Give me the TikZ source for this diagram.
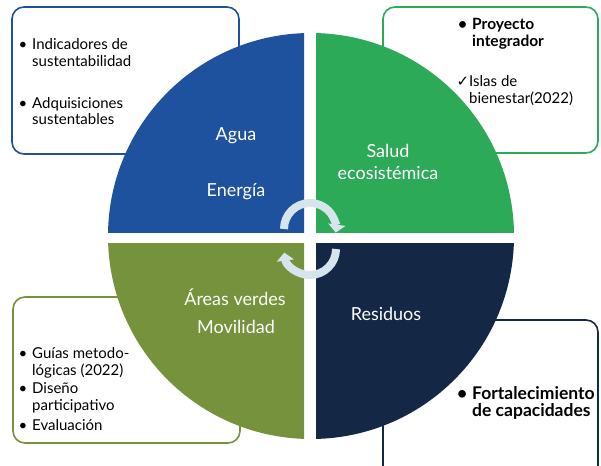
\documentclass[tikz,border=0pt]{standalone}
\usepackage{fontspec}
\setmainfont{Lato}
\newfontfamily\symfont{DejaVu Sans}
\usepackage{xcolor}
\usepackage{tikz}
\usetikzlibrary{arrows.meta, positioning}
\definecolor{agua}{RGB}{31,82,158}
\definecolor{salud}{RGB}{44,170,88}
\definecolor{areas}{RGB}{118,146,60}
\definecolor{residuos}{RGB}{20,39,68}
\definecolor{ciclo}{RGB}{214,228,237}
\tikzstyle{infobox} = [rounded corners=12pt, line width=1.6pt, fill=white]
\tikzstyle{listtext} = [anchor=base west, align=left, inner sep=0pt, font=\fontsize{15}{17}\selectfont]
\tikzstyle{listbold} = [listtext, font=\fontsize{15.5}{17}\selectfont\bfseries]
\tikzstyle{quadtext} = [anchor=base, inner sep=0pt, text=white, font=\fontsize{18}{22}\selectfont]
\tikzstyle{cycle} = [line width=8pt, draw=ciclo, -{Triangle[length=8pt,width=17pt]}]
\newcommand{\bul}{\llap{\textbullet\hspace{5pt}}}

\begin{document}
\begin{tikzpicture}[x=1pt, y=-1pt]
                  \useasboundingbox (0,0) rectangle (601,465);
                  \clip (0,0) rectangle (601,465);
                  % boxes behind the circle
                  \draw [infobox, draw=agua] (12,7) rectangle (239,154);
                  \draw [infobox, draw=salud] (383,7) rectangle (598,153);
                  \draw [infobox, draw=areas] (13,297) rectangle (240,443);
                  \draw [infobox, draw=residuos] (383,320) rectangle (598,478);

                  % four quarters
                  \begin{scope}
                      \clip (0,0) rectangle (304,232);
                      \fill [agua] (311,236) circle [radius=203pt];
                  \end{scope}
                  \begin{scope}
                      \clip (316,0) rectangle (601,232);
                      \fill [salud] (311,236) circle [radius=203pt];
                  \end{scope}
                  \begin{scope}
                      \clip (0,243) rectangle (304,465);
                      \fill [areas] (311,236) circle [radius=203pt];
                  \end{scope}
                  \begin{scope}
                      \clip (316,243) rectangle (601,465);
                      \fill [residuos] (311,236) circle [radius=203pt];
                  \end{scope}

                  % last line sits on the given point
                  \node (agua) [quadtext] at (236,141) {Agua};
                  \node (energia) [quadtext] at (236,196) {Energía};
                  \node (salud) [quadtext, align=center] at (388,179) {Salud\\ecosistémica};
                  \node (areas) [quadtext] at (235,305) {Áreas verdes};
                  \node (movilidad) [quadtext] at (236,333) {Movilidad};
                  \node (residuos) [quadtext] at (386,320) {Residuos};

                  % cycle arrows
                  \draw [cycle] (284,229) arc [start angle=180, end angle=-8, radius=26pt];
                  \draw [cycle] (336,249) arc [start angle=0, end angle=-172, radius=26pt];

                  \node (indicadores) [listtext] at (32,67) {\bul Indicadores de\\sustentabilidad};
                  \node (adquisiciones) [listtext] at (32,125) {\bul Adquisiciones\\sustentables};
                  \node (proyecto) [listbold] at (472,47) {\bul Proyecto\\integrador};
                  \node (islas) [listtext] at (469,104) {\llap{\symfont ✓}Islas de\\bienestar(2022)};
                  \node (guias) [listtext] at (32,375) {\bul Guías metodo-\\lógicas (2022)};
                  \node (diseno) [listtext] at (32,410) {\bul Diseño\\participativo};
                  \node (evaluacion) [listtext] at (32,430) {\bul Evaluación};
                  \node (fortalecimiento) [listbold, font=\fontsize{17.5}{17}\selectfont\bfseries] at (472,416) {\bul Fortalecimiento\\de capacidades};
              \end{tikzpicture}
\end{document}
